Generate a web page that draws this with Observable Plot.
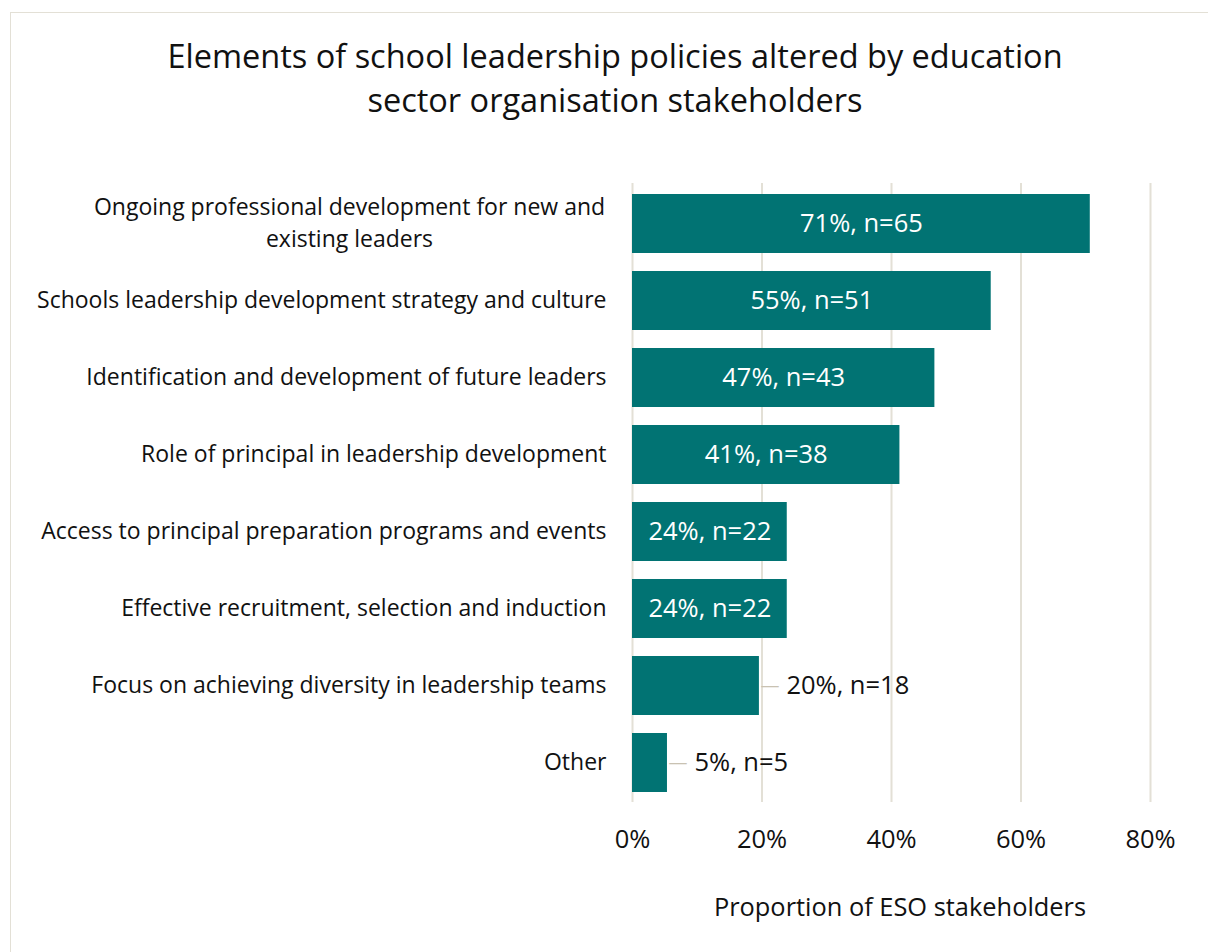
<!DOCTYPE html>
<html><head><meta charset="utf-8">
<script src="https://cdn.jsdelivr.net/npm/d3@7"></script>
<script src="https://cdn.jsdelivr.net/npm/@observablehq/plot@0.6"></script>
<style>
body{margin:0;background:#fff;font-family:"Open Sans",sans-serif;}
#wrap{position:relative;width:1208px;height:952px;overflow:hidden;background:#fff;}
#frame{position:absolute;left:10px;top:12px;width:1300px;height:1000px;border:1.5px solid #e3e0d6;box-sizing:border-box;}
#title{position:absolute;left:0;top:34px;width:1230px;text-align:center;font-size:32.5px;line-height:44px;color:#111;}
#chart{position:absolute;left:0;top:170px;}
#xlabel{position:absolute;left:600px;width:600px;top:889px;text-align:center;font-size:25.4px;color:#111;}
</style></head>
<body><div id="wrap">
<div id="frame"></div>
<div id="title">Elements of school leadership policies altered by education<br>sector organisation stakeholders</div>
<div id="chart"></div>
<div id="xlabel">Proportion of ESO stakeholders</div>
</div>
<script>
const categories = [
  "Ongoing professional development for new and\nexisting leaders",
  "Schools leadership development strategy and culture",
  "Identification and development of future leaders",
  "Role of principal in leadership development",
  "Access to principal preparation programs and events",
  "Effective recruitment, selection and induction",
  "Focus on achieving diversity in leadership teams",
  "Other"
];
const values = [70.7, 55.4, 46.7, 41.3, 23.9, 23.9, 19.6, 5.4];
const labels = ["71%, n=65","55%, n=51","47%, n=43","41%, n=38","24%, n=22","24%, n=22","20%, n=18","5%, n=5"];
const inside = [true,true,true,true,true,true,false,false];
const xTicks = [0,20,40,60,80];

const data = categories.map((c,i)=>({cat:c, v:values[i], label:labels[i], inside:inside[i]}));
const outside = data.filter(d=>!d.inside);
const wrapped = categories.filter(c=>c.includes("\n"));
const teal = "#017373";

const plot = Plot.plot({
  width: 1208,
  height: 782,
  marginLeft: 632,
  marginRight: 58,
  marginTop: 13,
  marginBottom: 150,
  style: {fontFamily: '"Open Sans", sans-serif', fontSize: "23px", color: "#111", background: "transparent"},
  x: {domain: [0, 80], ticks: xTicks},
  y: {domain: categories, paddingInner: 0.235, paddingOuter: 0.12},
  marks: [
    Plot.ruleX(xTicks, {stroke: "#e3e0d6", strokeWidth: 2}),
    Plot.barX(data, {y: "cat", x: "v", fill: teal}),
    Plot.text(data.filter(d=>d.inside), {y: "cat", x: d=>d.v/2, text: "label", fill: "white", fontSize: 25.5}),
    Plot.text(outside, {y: "cat", x: "v", text: d=>"\u2014", dx: 1, textAnchor: "start", fill: "#c9c2b2", fontSize: 19}),
    Plot.text(outside, {y: "cat", x: "v", text: "label", dx: 27, textAnchor: "start", fill: "#111", fontSize: 25.5}),
    Plot.axisY({tickSize: 0, tickPadding: 26, label: null, fontSize: 23, tickFormat: d=>d.includes("\n") ? "" : d}),
    Plot.text(wrapped, {y: d=>d, text: d=>d, frameAnchor: "left", dx: -283, dy: -3, textAnchor: "middle", fontSize: 23, lineHeight: 1.39, fill: "#111"}),
    Plot.axisX({ticks: xTicks, tickSize: 0, tickPadding: 27, tickFormat: d=>d+"%", label: null, fontSize: 25.5})
  ]
});
document.getElementById("chart").appendChild(plot);
</script>
</body></html>
